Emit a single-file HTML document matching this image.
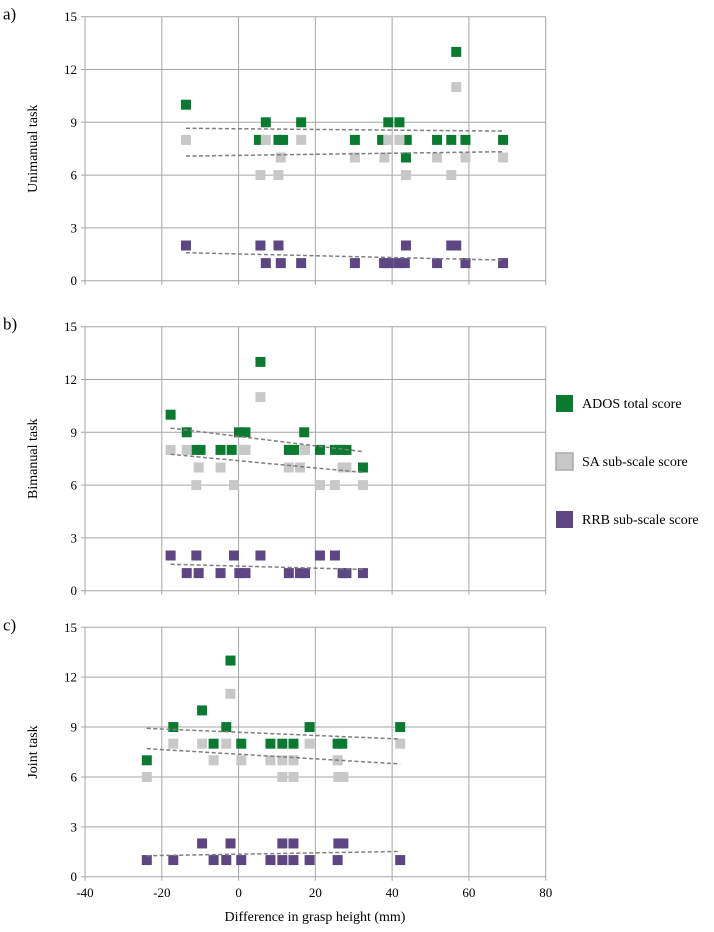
<!DOCTYPE html>
<html><head><meta charset="utf-8"><style>
body{margin:0;background:#fff}
svg{display:block}
svg text{font-family:"Liberation Serif","Times New Roman",serif}
</style></head><body>
<svg id="c" width="714" height="932" viewBox="0 0 714 932" font-family="Liberation Serif, serif"></svg>
<script>
const xTicks=[-40,-20,0,20,40,60,80];
const yTicks=[0,3,6,9,12,15];
const panelLabels=["a)","b)","c)"];
const panelTitles=["Unimanual task","Bimanual task","Joint task"];
const seriesNames=["ADOS total score","SA sub-scale score","RRB sub-scale score"];
const seriesColors=["#0a7a30","#c8c8c8","#5c4683"];
// panel a
const aX_ados=[-13.7,5.3,7.1,10.4,11.6,16.3,30.3,37.4,39,41.9,43.8,43.6,51.7,55.4,56.7,59.1,68.9];
const aY_ados=[10,8,9,8,8,9,8,8,9,9,8,7,8,8,13,8,8];
const aX_sa=[-13.7,7.1,11,5.7,10.4,16.3,30.3,38,39,41.9,43.6,51.7,55.4,56.7,59.1,68.9];
const aY_sa=[8,8,7,6,6,8,7,7,8,8,6,7,6,11,7,7];
const aX_rrb=[-13.7,5.7,10.4,7.1,11,16.3,30.3,37.9,39,41.6,43.3,43.6,51.7,55.4,56.7,59.1,68.9];
const aY_rrb=[2,2,2,1,1,1,1,1,1,1,1,2,1,2,2,1,1];
const aTrend_x=[-13.7,68.9];
const aTrend_ados=[8.66,8.5];
const aTrend_sa=[7.08,7.33];
const aTrend_rrb=[1.59,1.17];
// panel b
const bX_ados=[-17.7,-13.5,-11.2,-9.9,-4.7,-1.8,0.1,1.8,5.7,13.1,14.5,17.1,21.2,25.1,26.6,28.1,32.4];
const bY_ados=[10,9,8,8,8,8,9,9,13,8,8,9,8,8,8,8,7];
const bX_sa=[-17.7,-13.5,-10.4,-11,-4.7,-1.2,1.0,1.8,5.7,13.1,16,17.3,21.2,25.1,27.1,28.1,32.4];
const bY_sa=[8,8,7,6,7,6,8,8,11,7,7,8,6,6,7,7,6];
const bX_rrb=[-17.7,-13.5,-11,-10.4,-4.7,-1.2,0.2,1.8,5.7,13.1,16,17.3,21.2,25.1,27.1,28.1,32.4];
const bY_rrb=[2,1,2,1,1,2,1,1,2,1,1,1,2,2,1,1,1];
const bTrend_x=[-17.7,32.4];
const bTrend_ados=[9.24,7.9];
const bTrend_sa=[7.75,6.72];
const bTrend_rrb=[1.5,1.21];
// panel c
const cX_ados=[-23.9,-17,-9.5,-6.5,-3.2,-2.1,0.7,8.3,11.4,14.3,18.5,25.8,27,42.1];
const cY_ados=[7,9,10,8,9,13,8,8,8,8,9,8,8,9];
const cX_sa=[-23.9,-17,-9.5,-6.5,-3.2,-2.1,0.7,8.3,11.4,14.3,11.4,14.3,18.5,25.8,26,27.3,42.1];
const cY_sa=[6,8,8,7,8,11,7,7,7,7,6,6,8,7,6,6,8];
const cX_rrb=[-23.9,-17,-9.5,-6.5,-3.2,-2.1,0.7,8.3,11.4,11.4,14.3,14.3,18.5,25.8,26,27.3,42.1];
const cY_rrb=[1,1,2,1,1,2,1,1,2,1,2,1,1,1,2,2,1];
const cTrend_x=[-23.9,42.1];
const cTrend_ados=[8.92,8.28];
const cTrend_sa=[7.7,6.78];
const cTrend_rrb=[1.26,1.52];

const panels=[
 {top:16.7,bot:280.7,xs:[aX_ados,aX_sa,aX_rrb],ys:[aY_ados,aY_sa,aY_rrb],tx:aTrend_x,ty:[aTrend_ados,aTrend_sa,aTrend_rrb]},
 {top:326.7,bot:590.7,xs:[bX_ados,bX_sa,bX_rrb],ys:[bY_ados,bY_sa,bY_rrb],tx:bTrend_x,ty:[bTrend_ados,bTrend_sa,bTrend_rrb]},
 {top:627.3,bot:876.7,xs:[cX_ados,cX_sa,cX_rrb],ys:[cY_ados,cY_sa,cY_rrb],tx:cTrend_x,ty:[cTrend_ados,cTrend_sa,cTrend_rrb]}
];
const NS="http://www.w3.org/2000/svg";
const svg=document.getElementById('c');
const X0=85,X1=545.7;
const FF='"Liberation Serif", serif';
const xs=v=>X0+(v+40)/120*(X1-X0);
function mk(tag,attrs,parent,text){const e=document.createElementNS(NS,tag);for(const k in attrs)e.setAttribute(k,attrs[k]);if(tag==='text')e.style.fontFamily=FF;if(text!=null)e.textContent=text;(parent||svg).appendChild(e);return e;}
panels.forEach((p,pi)=>{
 const ys=v=>p.bot-v/15*(p.bot-p.top);
 const g=mk('g',{});
 
 
 xTicks.forEach(t=>{const l=mk('line',{x1:xs(t),x2:xs(t),y1:p.top,y2:p.bot+4,stroke:'#a6a6a6','stroke-width':1},g);
  
  });
 yTicks.forEach(t=>{const l=mk('line',{x1:X0-4,x2:X1,y1:ys(t),y2:ys(t),stroke:'#a6a6a6','stroke-width':1},g);
  
  
  const tl=mk('text',{x:X0-8,y:ys(t)+4.5,'text-anchor':'end','font-size':13,fill:'#000'},g,String(t));
  
  });
 const pl=mk('text',{x:3,y:p.top+3,'font-size':17,fill:'#000'},g,panelLabels[pi]);
 
 
 const cy=(p.top+p.bot)/2;
 const yt=mk('text',{x:37,y:cy,'text-anchor':'middle','font-size':14,transform:`rotate(-90 37 ${cy})`,fill:'#000'},g,panelTitles[pi]);
 
 
 for(let s=0;s<3;s++){
  p.xs[s].forEach((xv,i)=>{const r=mk('rect',{x:xs(xv)-5,y:ys(p.ys[s][i])-5,width:10,height:10,fill:seriesColors[s]},g);
   
   });
 }
 for(let s=0;s<3;s++){
  const l=mk('line',{x1:xs(p.tx[0]),x2:xs(p.tx[1]),y1:ys(p.ty[s][0]),y2:ys(p.ty[s][1]),stroke:'#7f7f7f','stroke-width':1.5,'stroke-dasharray':'4 2.5'},g);
  
  
 }
 if(pi===2){xTicks.forEach(t=>{const tl=mk('text',{x:xs(t),y:897,'text-anchor':'middle','font-size':13,fill:'#000'},g,String(t));
  
  });}
});
const xt=mk('text',{x:315,y:921,'text-anchor':'middle','font-size':14,fill:'#000'},svg,'Difference in grasp height (mm)');


const lg=mk('g',{});


[403,461,519].forEach((y,i)=>{
 const r=mk('rect',{x:556,y:y-8,width:17,height:17,fill:seriesColors[i],stroke:i===1?'#aaa':'none','stroke-width':1.5},lg);
 
 
 const t=mk('text',{x:582,y:y+5,'font-size':14,fill:'#000'},lg,seriesNames[i]);
 
 
});
</script>
</body></html>
